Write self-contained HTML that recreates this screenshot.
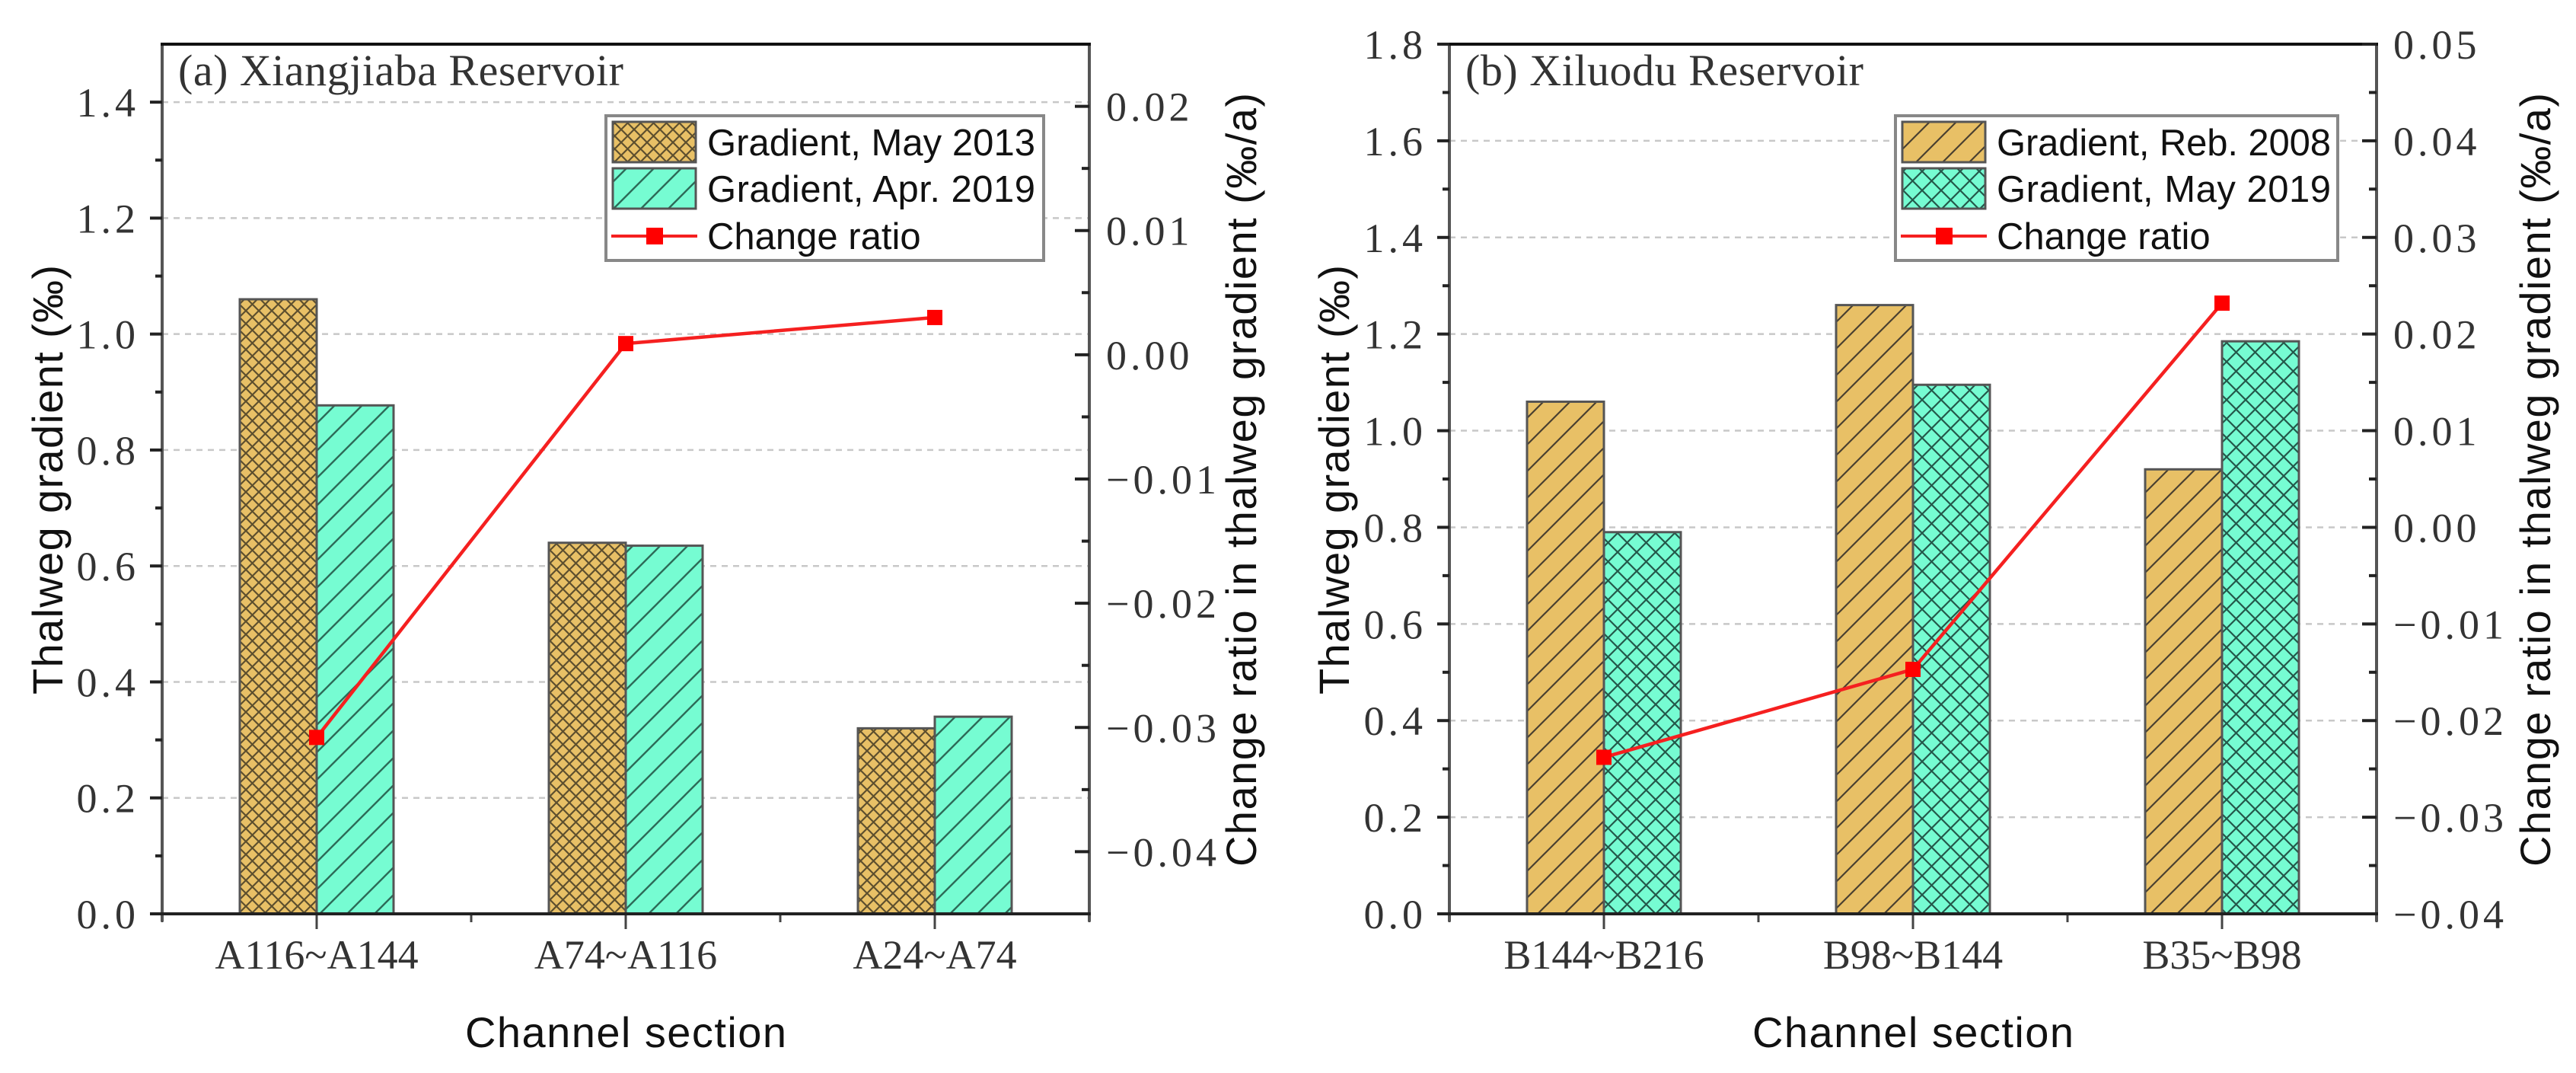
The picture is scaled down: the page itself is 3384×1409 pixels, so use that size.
<!DOCTYPE html>
<html><head><meta charset="utf-8">
<style>
html,body{margin:0;padding:0;background:#fff;}
svg{display:block;}
.serif{font-family:"Liberation Serif",serif;fill:#333;}
.sans{font-family:"Liberation Sans",sans-serif;fill:#111;}
</style></head>
<body>
<svg id="chart" width="3384" height="1409" viewBox="0 0 3384 1409" xmlns="http://www.w3.org/2000/svg">
<defs>
<pattern id="crossA" patternUnits="userSpaceOnUse" width="17" height="17">
<rect width="17" height="17" fill="#e8c066"/>
<path d="M0,0 L17,17 M17,0 L0,17" stroke="#3a3320" stroke-width="2.2" opacity="0.8"/>
</pattern>
<pattern id="diagA" patternUnits="userSpaceOnUse" width="36" height="36">
<rect width="36" height="36" fill="#76fcd2"/>
<path d="M-9,45 L45,-9 M-9,9 L9,-9 M27,45 L45,27" stroke="#2d6b58" stroke-width="2.4"/>
</pattern>
<pattern id="diagB" patternUnits="userSpaceOnUse" width="35" height="35">
<rect width="35" height="35" fill="#e8c066"/>
<path d="M-9,44 L44,-9 M-9,9 L9,-9 M26,44 L44,26" stroke="#4a4030" stroke-width="2.2"/>
</pattern>
<pattern id="crossB" patternUnits="userSpaceOnUse" width="25" height="25">
<rect width="25" height="25" fill="#76fcd2"/>
<path d="M0,0 L25,25 M25,0 L0,25" stroke="#24584a" stroke-width="2.2"/>
</pattern>
</defs>
</svg>
<script>
// Panel (a) data
const catsA = ["A116~A144", "A74~A116", "A24~A74"];
const gradOldA = [1.06, 0.64, 0.32];
const gradNewA = [0.877, 0.635, 0.34];
const ratioA = [-0.0308, 0.0009, 0.003];
const leftTicksA = ["0.0","0.2","0.4","0.6","0.8","1.0","1.2","1.4"];
const rightTicksA = ["-0.04","-0.03","-0.02","-0.01","0.00","0.01","0.02"];
const legendA = ["Gradient, May 2013", "Gradient, Apr. 2019", "Change ratio"];
// Panel (b) data
const catsB = ["B144~B216", "B98~B144", "B35~B98"];
const gradOldB = [1.06, 1.26, 0.92];
const gradNewB = [0.79, 1.095, 1.185];
const ratioB = [-0.0238, -0.0147, 0.0232];
const leftTicksB = ["0.0","0.2","0.4","0.6","0.8","1.0","1.2","1.4","1.6","1.8"];
const rightTicksB = ["-0.04","-0.03","-0.02","-0.01","0.00","0.01","0.02","0.03","0.04","0.05"];
const legendB = ["Gradient, Reb. 2008", "Gradient, May 2019", "Change ratio"];

const NS = "http://www.w3.org/2000/svg";
const svg = document.getElementById("chart");
function mk(tag, attrs, parent, txt) {
  const e = document.createElementNS(NS, tag);
  for (const k in attrs) e.setAttribute(k, attrs[k]);
  if (txt !== undefined) e.textContent = txt;
  (parent || svg).appendChild(e);
  return e;
}
function fmt(s){ return s.replace("-", "\u2212"); }

function panel(o) {
  const g = mk("g", {});
  
  
  const L = o.left, R = o.right, T = 58, B = 1200;
  const yL = v => B - (v - o.lmin) / (o.lmax - o.lmin) * (B - T);
  const yR = v => B - (v - o.rmin) / (o.rmax - o.rmin) * (B - T);
  const step = (R - L) / o.cats.length;
  const xC = i => L + step * (i + 0.5);
  o.lticks.forEach(t => {
    const v = parseFloat(t);
    if (v <= o.lmin || v >= o.lmax - 1e-9) return;
    const gl = mk("line", {x1: L, x2: R, y1: yL(v), y2: yL(v), stroke: "#c8c8c8", "stroke-width": 2.5, "stroke-dasharray": "8 7"}, g);
    
    
  });
  const bw = o.bw;
  o.cats.forEach((c, i) => {
    const b1 = mk("rect", {x: xC(i) - bw, y: yL(o.old[i]), width: bw, height: B - yL(o.old[i]), fill: "url(#" + o.p1 + ")", stroke: "#555", "stroke-width": 3}, g);
    
    
    const b2 = mk("rect", {x: xC(i), y: yL(o.nw[i]), width: bw, height: B - yL(o.nw[i]), fill: "url(#" + o.p2 + ")", stroke: "#555", "stroke-width": 3}, g);
    
    
    const lb = mk("text", {x: xC(i), y: 1272, "text-anchor": "middle", "font-size": 54, class: "serif", fill: "#222"}, g, c);
    
    
    const tk = mk("line", {x1: xC(i), x2: xC(i), y1: B, y2: B + 20, stroke: "#444", "stroke-width": 3}, g);
    
    
  });
  for (let i = 0; i <= o.cats.length; i++) {
    const x = L + step * i;
    const tk = mk("line", {x1: x, x2: x, y1: B, y2: B + 11, stroke: "#444", "stroke-width": 3}, g);
    
    
  }
  const pts = o.ratio.map((r, i) => (xC(i)) + "," + yR(r)).join(" ");
  const pl = mk("polyline", {points: pts, fill: "none", stroke: "#f52020", "stroke-width": 4.5}, g);
  
  
  o.ratio.forEach((r, i) => {
    const m = mk("rect", {x: xC(i) - 10, y: yR(r) - 10, width: 20, height: 20, fill: "#ff0000"}, g);
    
    
  });
  const ax = mk("line", {x1: L, x2: L, y1: T - 2, y2: B + 10, stroke: "#555", "stroke-width": 4}, g);
  
  
  const ar = mk("line", {x1: R, x2: R, y1: T - 2, y2: B + 10, stroke: "#555", "stroke-width": 4}, g);
  
  
  const at = mk("line", {x1: L - 2, x2: R + 2, y1: T, y2: T, stroke: "#111", "stroke-width": 4}, g);
  
  
  const ab = mk("line", {x1: L - 14, x2: R + 2, y1: B, y2: B, stroke: "#222", "stroke-width": 4}, g);
  
  
  o.lticks.forEach(t => {
    const v = parseFloat(t), y = yL(v);
    const tk = mk("line", {x1: L - 16, x2: L, y1: y, y2: y, stroke: "#222", "stroke-width": 4}, g);
    
    
    const tl = mk("text", {x: L - 30, y: y + 19, "text-anchor": "end", "font-size": 54, "letter-spacing": 5, class: "serif"}, g, t);
    
    
    const mv = v + 0.1;
    if (mv < o.lmax) {
      const mt = mk("line", {x1: L - 9, x2: L, y1: yL(mv), y2: yL(mv), stroke: "#222", "stroke-width": 4}, g);
      
      
    }
  });
  o.rticks.forEach(t => {
    const v = parseFloat(t), y = yR(v);
    const tk = mk("line", {x1: R - 19, x2: R, y1: y, y2: y, stroke: "#222", "stroke-width": 4}, g);
    
    
    const tl = mk("text", {x: R + 22, y: y + 19, "text-anchor": "start", "font-size": 54, "letter-spacing": 5, class: "serif"}, g, fmt(t));
    
    
    [-0.005, 0.005].forEach(d => {
      const mv = v + d;
      if (mv > o.rmin && mv < o.rmax && (d > 0 || t === o.rticks[0])) {
        const mt = mk("line", {x1: R - 10, x2: R, y1: yR(mv), y2: yR(mv), stroke: "#222", "stroke-width": 4}, g);
        
        
      }
    });
  });
  const pt = mk("text", {x: L + 21, y: 112, "font-size": 58, class: "serif", fill: "#111", textLength: o.titleTL}, g, o.title);
  
  
  const xt = mk("text", {x: (L + R) / 2, y: 1375, "text-anchor": "middle", "font-size": 56, class: "sans", textLength: 422}, g, "Channel section");
  
  
  const ylt = mk("text", {x: 0, y: 0, "text-anchor": "middle", "font-size": 56, class: "sans", textLength: 564, transform: "translate(" + (o.ltX) + ",630) rotate(-90)"}, g, "Thalweg gradient (\u2030)");
  
  
  const yrt = mk("text", {x: 0, y: 0, "text-anchor": "middle", "font-size": 56, class: "sans", textLength: 1016, transform: "translate(" + (o.rtX) + ",630) rotate(-90)"}, g, "Change ratio in thalweg gradient (\u2030/a)");
  
  
  const lg = mk("g", {}, g);
  
  
  const lx = o.legX;
  const box = mk("rect", {x: lx, y: 152, width: o.legW, height: 190, fill: "#fff", stroke: "#888", "stroke-width": 4}, lg);
  
  
  const s1 = mk("rect", {x: lx + 9, y: 160, width: 109, height: 53, fill: "url(#" + o.p1 + ")", stroke: "#555", "stroke-width": 3}, lg);
  
  
  const s2 = mk("rect", {x: lx + 9, y: 221, width: 109, height: 53, fill: "url(#" + o.p2 + ")", stroke: "#555", "stroke-width": 3}, lg);
  
  
  const ll = mk("line", {x1: lx + 7, x2: lx + 120, y1: 310, y2: 310, stroke: "#f52020", "stroke-width": 4}, lg);
  
  
  const lm = mk("rect", {x: lx + 53, y: 299, width: 22, height: 22, fill: "#ff0000"}, lg);
  
  
  const ys = [204, 265, 327];
  o.legend.forEach((t, i) => {
    const lt = mk("text", {x: lx + 133, y: ys[i], "font-size": 49, class: "sans", fill: "#222"}, lg, t);
    if (i < 2) lt.setAttribute("textLength", o.legTL);
    
    
  });
}

panel({name: "panel-a", left: 213, right: 1431, lmin: 0, lmax: 1.5, rmin: -0.045, rmax: 0.025,
  cats: catsA, old: gradOldA, nw: gradNewA, ratio: ratioA, lticks: leftTicksA, rticks: rightTicksA,
  p1: "crossA", p2: "diagA", bw: 101, title: "(a) Xiangjiaba Reservoir", titleTL: 585, legend: legendA,
  ltX: 82, rtX: 1650, legX: 796, legW: 575, legTL: 431});
panel({name: "panel-b", left: 1904, right: 3122, lmin: 0, lmax: 1.8, rmin: -0.04, rmax: 0.05,
  cats: catsB, old: gradOldB, nw: gradNewB, ratio: ratioB, lticks: leftTicksB, rticks: rightTicksB,
  p1: "diagB", p2: "crossB", bw: 101, title: "(b) Xiluodu Reservoir", titleTL: 523, legend: legendB,
  ltX: 1772, rtX: 3350, legX: 2490, legW: 581, legTL: 439});
</script>
</body></html>
